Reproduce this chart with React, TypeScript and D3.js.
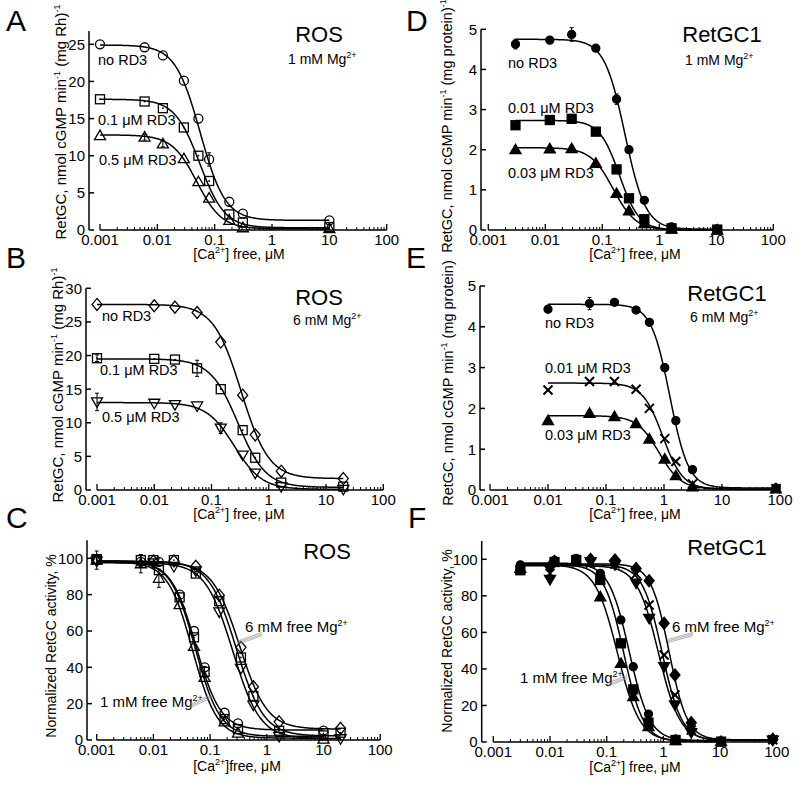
import React from 'react'
import * as d3 from 'd3'

const FONT = 'Liberation Sans, Arial, Helvetica, sans-serif'

// x values, uM free Ca2+
const rosX1 = [0.001, 0.006, 0.0125, 0.029, 0.052, 0.08, 0.18, 0.31, 10]
const rosX6 = [0.001, 0.01, 0.023, 0.056, 0.145, 0.35, 0.58, 1.65, 20]
const retX1 = [0.003, 0.012, 0.029, 0.077, 0.178, 0.294, 0.546, 1.64, 10.4]
const retX6 = [0.01, 0.052, 0.14, 0.33, 0.56, 1.03, 1.6, 3.1, 85]

// panel A - ROS, 1 mM Mg
const aNoRD3 = [25.0, 24.6, 23.5, 20.1, 15.0, 9.5, 3.8, 2.2, 1.3]
const aRD01 = [17.6, 17.3, 16.4, 13.8, 10.0, 6.6, 2.1, 1.0, 0.4]
const aRD05 = [12.7, 12.5, 11.6, 9.6, 6.5, 4.3, 1.3, 0.3, 0.2]
const aErrNo = [0, 0, 0, 0, 0, 0.9, 0, 0, 0]
const aErr05 = [0, 0.4, 0.4, 0, 0, 0, 0, 0, 0]

// panel B - ROS, 6 mM Mg
const bNoRD3 = [27.6, 27.4, 27.2, 26.4, 22.0, 14.1, 8.2, 2.8, 1.7]
const bRD01 = [19.6, 19.5, 19.4, 18.1, 15.0, 8.9, 4.8, 1.1, 0.5]
const bRD05 = [13.1, 12.9, 12.7, 12.5, 9.2, 5.2, 2.5, 0.5, 0.1]
const bErr01 = [0.5, 0, 0, 1.2, 0, 0, 0, 0, 0]
const bErr05 = [1.3, 0, 0, 0, 0.8, 0, 0, 0, 0]

// panel C - ROS normalized, %
const c1Circle = [99.5, 98, 98, 80, 60, 40, 15, 9.2, 5.2]
const c1Square = [99.5, 99, 93.5, 78.5, 56.5, 37.5, 11.5, 6.0, 2.5]
const c1Tri = [99, 97, 89, 74.5, 51.5, 34.5, 10, 3.8, 0.5]
const c6Diamond = [99, 98.5, 98.5, 95.6, 79.7, 51, 29.3, 10, 6.4]
const c6Square = [99.5, 99, 99, 91.6, 76.4, 45.4, 24.2, 5.1, 4.0]
const c6Tri = [98.5, 97.5, 95.5, 93, 70.5, 39.4, 19.2, 2, 0.7]
const cErrTri = [5, 5, 5, 0, 0, 0, 0, 0, 0]
const cErrSq = [0, 3, 0, 0, 0, 3, 0, 0, 0]

// panel D - RetGC1, 1 mM Mg
const dNoRD3 = [4.63, 4.73, 4.87, 4.53, 3.26, 2.0, 0.74, 0.08, 0.02]
const dRD001 = [2.61, 2.74, 2.77, 2.45, 1.51, 0.79, 0.27, 0.04, 0.01]
const dRD003 = [2.0, 2.02, 2.03, 1.66, 0.91, 0.48, 0.16, 0.02, 0.0]
const dErrNo = [0.12, 0, 0.17, 0, 0.13, 0, 0, 0, 0]

// panel E - RetGC1, 6 mM Mg
const eNoRD3 = [4.43, 4.57, 4.6, 4.41, 4.11, 3.0, 1.7, 0.5, 0.05]
const eRD001 = [2.45, 2.66, 2.66, 2.47, 2.0, 1.26, 0.7, 0.15, 0.03]
const eRD003 = [1.7, 1.88, 1.8, 1.63, 1.25, 0.76, 0.35, 0.08, 0.03]
const eErrNo = [0, 0.15, 0, 0, 0, 0, 0, 0, 0]

// panel F - RetGC1 normalized, %
const f1Circle = [97, 99.5, 100.5, 92.3, 66.8, 41.2, 15.3, 1.5, 0.5]
const f1Square = [94, 98.5, 99.6, 88.7, 54, 28.8, 10.6, 1.1, 0.2]
const f1Tri = [95, 99, 99, 79.5, 43, 24.8, 8.4, 0.8, 0.2]
const f6Diamond = [96, 100, 99.6, 95, 88.3, 65, 36.7, 10.6, 1.5]
const f6Cross = [92.3, 98, 97.5, 92, 75, 47.6, 25.7, 6.6, 1.2]
const f6Tri = [89, 98.7, 97, 87, 67.7, 41.2, 20.3, 5.1, 1.0]

// Hill fit parameters: [top, bottom, IC50, hill]
const fitA = [[24.9, 1.3, 0.056, 2.0], [17.6, 0.3, 0.055, 2.0], [12.8, 0.15, 0.049, 2.0]]
const fitB = [[27.6, 1.7, 0.33, 1.8], [19.5, 0.4, 0.29, 1.8], [13.0, 0.1, 0.25, 1.8]]
const fitC1 = [[98.5, 5.5, 0.056, 2.0], [98.5, 2, 0.055, 2.0], [98, 1, 0.049, 2.0]]
const fitC6 = [[98, 6, 0.33, 1.8], [98.5, 2.2, 0.29, 1.8], [97.5, 0.8, 0.25, 1.8]]
const fitD = [[4.75, 0.02, 0.25, 2.4], [2.73, 0.0, 0.2, 2.5], [2.05, 0.0, 0.155, 2.2]]
const fitE = [[4.55, 0.05, 1.26, 2.7], [2.62, 0.02, 0.95, 2.5], [1.82, 0.02, 0.82, 2.3]]
const fitF1 = [[98, 0.8, 0.25, 2.4], [97, 0.3, 0.2, 2.5], [97, 0.3, 0.155, 2.2]]
const fitF6 = [[97.5, 1.2, 1.26, 2.7], [97, 0.8, 0.95, 2.5], [96.5, 0.8, 0.82, 2.3]]

const decades = [0.001, 0.01, 0.1, 1, 10, 100]
const decadeLabels = ['0.001', '0.01', '0.1', '1', '10', '100']

const hill = (f: number[], x: number) => f[1] + (f[0] - f[1]) / (1 + Math.pow(x / f[2], f[3]))

function Marker({ type, cx, cy, filled }: any) {
  const fill = filled ? '#000' : 'none'
  const sw = 1.3
  if (type === 'circle') return <circle cx={cx} cy={cy} r={filled ? 4 : 4.5} fill={fill} stroke="#000" strokeWidth={sw} />
  if (type === 'square')
    return (
      <g>
        <rect x={cx - 4.5} y={cy - 4.5} width={9} height={9} fill={fill} stroke="#000" strokeWidth={sw} />
        {!filled && <circle cx={cx} cy={cy} r={0.9} fill="#000" />}
      </g>
    )
  if (type === 'tri') return <polygon points={`${cx},${cy - 5.5} ${cx + 5.5},${cy + 4} ${cx - 5.5},${cy + 4}`} fill={fill} stroke="#000" strokeWidth={sw} />
  if (type === 'tridown') return <polygon points={`${cx},${cy + 5.5} ${cx + 5.5},${cy - 4} ${cx - 5.5},${cy - 4}`} fill={fill} stroke="#000" strokeWidth={sw} />
  if (type === 'diamond') return <polygon points={`${cx},${cy - 6} ${cx + 5},${cy} ${cx},${cy + 6} ${cx - 5},${cy}`} fill={fill} stroke="#000" strokeWidth={sw} />
  // cross
  return (
    <g stroke="#000" strokeWidth={2}>
      <line x1={cx - 4.5} y1={cy - 4.5} x2={cx + 4.5} y2={cy + 4.5} />
      <line x1={cx - 4.5} y1={cy + 4.5} x2={cx + 4.5} y2={cy - 4.5} />
    </g>
  )
}

function Leader({ x1, y1, x2, y2 }: any) {
  return (
    <g stroke="#8a8a8a" strokeWidth={0.7}>
      {[-1.6, 0, 1.6].map(o => (
        <line key={o} x1={x1} y1={y1 + o} x2={x2} y2={y2 + o} />
      ))}
    </g>
  )
}

function Sup({ children }: any) {
  return <tspan fontSize={9} dy={-6}>{children}</tspan>
}

function Panel({ p }: any) {
  const x = d3.scaleLog().domain([0.001, 100]).range(p.xRange)
  const y = d3.scaleLinear().domain([0, p.yMax]).range(p.yRange)
  const y0 = y(0)
  const minor: number[] = []
  for (let i = 0; i < 5; i++) for (let k = 2; k <= 9; k++) minor.push(decades[i] * k)
  const line = d3.line<number[]>().x(d => x(d[0])).y(d => y(d[1]))

  return (
    <g fontFamily={FONT}>
      {/* y axis */}
      <line x1={p.yAxisX} x2={p.yAxisX} y1={y0} y2={y(p.yTop)} stroke="#000" strokeWidth={1.5} />
      {p.yTicks.map((t: number) => (
        <g key={t}>
          <line x1={p.yAxisX} x2={p.yAxisX + 5} y1={y(t)} y2={y(t)} stroke="#000" strokeWidth={1.5} />
          <text x={p.yAxisX - 4} y={y(t)} dy="0.36em" textAnchor="end" fontSize={15}>{t}</text>
        </g>
      ))}
      {/* x axis */}
      <line x1={x(0.001)} x2={x(100)} y1={y0} y2={y0} stroke="#000" strokeWidth={1.5} />
      {decades.map((d, i) => (
        <g key={d}>
          <line x1={x(d)} x2={x(d)} y1={y0} y2={y0 - 6} stroke="#000" strokeWidth={1.3} />
          <text x={x(d)} y={y0 + 15} textAnchor="middle" fontSize={15}>{decadeLabels[i]}</text>
        </g>
      ))}
      {minor.map(m => (
        <line key={m} x1={x(m)} x2={x(m)} y1={y0} y2={y0 - 3} stroke="#000" strokeWidth={1} />
      ))}
      {/* fitted curves */}
      {p.series.map((s: any, i: number) => {
        const lo = Math.log10(s.from)
        const hi = Math.log10(s.to)
        const pts = d3.range(0, 241).map(k => {
          const xv = Math.pow(10, lo + ((hi - lo) * k) / 240)
          return [xv, hill(s.fit, xv)]
        })
        return <path key={'c' + i} d={line(pts) || ''} fill="none" stroke="#000" strokeWidth={1.5} />
      })}
      {/* error bars */}
      {p.series.map((s: any, i: number) =>
        (s.err || []).map((e: number, j: number) =>
          e > 0 ? (
            <g key={'e' + i + '-' + j} stroke="#000" strokeWidth={1}>
              <line x1={x(s.x[j])} x2={x(s.x[j])} y1={y(s.y[j] - e)} y2={y(s.y[j] + e)} />
              <line x1={x(s.x[j]) - 2} x2={x(s.x[j]) + 2} y1={y(s.y[j] + e)} y2={y(s.y[j] + e)} />
              <line x1={x(s.x[j]) - 2} x2={x(s.x[j]) + 2} y1={y(s.y[j] - e)} y2={y(s.y[j] - e)} />
            </g>
          ) : null
        )
      )}
      {/* markers */}
      {p.series.map((s: any, i: number) =>
        s.y.map((v: number, j: number) => (
          <Marker key={'m' + i + '-' + j} type={s.marker} filled={s.filled} cx={x(s.x[j])} cy={y(v)} />
        ))
      )}
      {/* letters and labels */}
      <text x={p.letter[1]} y={p.letter[2]} fontSize={30}>{p.letter[0]}</text>
      <text x={p.title[1]} y={p.title[2]} fontSize={22} textAnchor="middle">{p.title[0]}</text>
      {p.sub && (
        <text x={p.sub[1]} y={p.sub[2]} fontSize={14}>
          {p.sub[0]} Mg<Sup>2+</Sup>
        </text>
      )}
      {p.labels.map((l: any) => (
        <text key={l[0]} x={l[1]} y={l[2]} fontSize={14.5}>{l[0]}</text>
      ))}
      {p.mgLabels &&
        p.mgLabels.map((l: any) => (
          <g key={l[0]}>
            <text x={l[1]} y={l[2]} fontSize={15}>
              {l[0]} free Mg<Sup>2+</Sup>
            </text>
            <Leader x1={l[3]} y1={l[4]} x2={l[5]} y2={l[6]} />
          </g>
        ))}
      <text x={p.xLabel[1]} y={p.xLabel[2]} fontSize={14} textAnchor="middle">
        [Ca<Sup>2+</Sup>
        <tspan dy={6}>]{p.xLabel[0]}, μM</tspan>
      </text>
      <text transform={`translate(${p.yLabel[1]},${p.yLabel[2]}) rotate(-90)`} fontSize={p.yLabel[3]} textAnchor="middle">
        {p.yLabel[0]}
      </text>
    </g>
  )
}

const ylabRh = (
  <>
    RetGC, nmol cGMP min<Sup>-1</Sup>
    <tspan dy={6}> (mg Rh)</tspan>
    <Sup>-1</Sup>
  </>
)
const ylabProt1 = (
  <>
    RetGC, nmol cGMP min<Sup>-1</Sup>
    <tspan dy={6}> (mg protein)</tspan>
    <Sup>-1</Sup>
  </>
)
const ylabProt = (
  <>
    RetGC, nmol cGMP min<Sup>-1</Sup>
    <tspan dy={6}> (mg protein)</tspan>
  </>
)

const panels = [
  {
    xRange: [100, 386.7], yRange: [230, 44.3], yMax: 25, yTop: 26.8, yAxisX: 89, yTicks: [0, 5, 10, 15, 20, 25],
    letter: ['A', 6, 31], title: ['ROS', 319, 42], sub: ['1 mM', 288, 64],
    labels: [['no RD3', 98, 65], ['0.1 μM RD3', 98, 125], ['0.5 μM RD3', 99, 165]],
    xLabel: [' free', 239, 259], yLabel: [ylabRh, 66, 122, 15],
    series: [
      { x: rosX1, y: aNoRD3, err: aErrNo, fit: fitA[0], marker: 'circle', from: 0.001, to: 10 },
      { x: rosX1, y: aRD01, fit: fitA[1], marker: 'square', from: 0.001, to: 10 },
      { x: rosX1, y: aRD05, err: aErr05, fit: fitA[2], marker: 'tri', from: 0.001, to: 10 },
    ],
  },
  {
    xRange: [97, 383.3], yRange: [490, 288.3], yMax: 30, yTop: 30, yAxisX: 86, yTicks: [0, 5, 10, 15, 20, 25, 30],
    letter: ['B', 6, 268], title: ['ROS', 319, 305], sub: ['6 mM', 293, 325],
    labels: [['no RD3', 102, 321], ['0.1 μM RD3', 100, 375], ['0.5 μM RD3', 102, 422]],
    xLabel: [' free', 239, 519], yLabel: [ylabRh, 63, 385, 15],
    series: [
      { x: rosX6, y: bNoRD3, fit: fitB[0], marker: 'diamond', from: 0.001, to: 20 },
      { x: rosX6, y: bRD01, err: bErr01, fit: fitB[1], marker: 'square', from: 0.001, to: 20 },
      { x: rosX6, y: bRD05, err: bErr05, fit: fitB[2], marker: 'tridown', from: 0.001, to: 20 },
    ],
  },
  {
    xRange: [96.7, 380.2], yRange: [740, 558.3], yMax: 100, yTop: 110, yAxisX: 87, yTicks: [0, 20, 40, 60, 80, 100],
    letter: ['C', 6, 528], title: ['ROS', 327, 559],
    labels: [],
    mgLabels: [['6 mM', 245, 632, 262, 634, 237, 643], ['1 mM', 100, 707, 190, 706, 212, 696]],
    xLabel: ['free', 237, 771], yLabel: ['Normalized RetGC activity, %', 56, 646, 14],
    series: [
      { x: rosX1, y: c1Circle, fit: fitC1[0], marker: 'circle', from: 0.001, to: 10 },
      { x: rosX1, y: c1Square, err: cErrSq, fit: fitC1[1], marker: 'square', from: 0.001, to: 10 },
      { x: rosX1, y: c1Tri, err: cErrTri, fit: fitC1[2], marker: 'tri', from: 0.001, to: 10 },
      { x: rosX6, y: c6Diamond, fit: fitC6[0], marker: 'diamond', from: 0.001, to: 20 },
      { x: rosX6, y: c6Square, fit: fitC6[1], marker: 'square', from: 0.001, to: 20 },
      { x: rosX6, y: c6Tri, fit: fitC6[2], marker: 'tridown', from: 0.001, to: 20 },
    ],
  },
  {
    xRange: [488.3, 773.3], yRange: [230, 29.3], yMax: 5, yTop: 5, yAxisX: 481, yTicks: [0, 1, 2, 3, 4, 5],
    letter: ['D', 406, 31], title: ['RetGC1', 722, 42], sub: ['1 mM', 685, 65],
    labels: [['no RD3', 508, 68], ['0.01 μM RD3', 508, 113], ['0.03 μM RD3', 508, 178]],
    xLabel: [' free', 635, 259], yLabel: [ylabProt1, 452, 126, 14.5],
    series: [
      { x: retX1, y: dNoRD3, err: dErrNo, fit: fitD[0], marker: 'circle', filled: true, from: 0.003, to: 10.4 },
      { x: retX1, y: dRD001, fit: fitD[1], marker: 'square', filled: true, from: 0.003, to: 10.4 },
      { x: retX1, y: dRD003, fit: fitD[2], marker: 'tri', filled: true, from: 0.003, to: 10.4 },
    ],
  },
  {
    xRange: [490, 780], yRange: [490, 286], yMax: 5, yTop: 5, yAxisX: 480, yTicks: [0, 1, 2, 3, 4, 5],
    letter: ['E', 406, 268], title: ['RetGC1', 727, 301], sub: ['6 mM', 690, 322],
    labels: [['no RD3', 545, 328], ['0.01 μM RD3', 545, 373], ['0.03 μM RD3', 545, 440]],
    xLabel: [' free', 635, 519], yLabel: [ylabProt, 453, 383, 14.5],
    series: [
      { x: retX6, y: eNoRD3, err: eErrNo, fit: fitE[0], marker: 'circle', filled: true, from: 0.01, to: 85 },
      { x: retX6, y: eRD001, fit: fitE[1], marker: 'cross', filled: true, from: 0.01, to: 85 },
      { x: retX6, y: eRD003, fit: fitE[2], marker: 'tri', filled: true, from: 0.01, to: 85 },
    ],
  },
  {
    xRange: [493.3, 776.8], yRange: [742, 559.3], yMax: 100, yTop: 110, yAxisX: 481.7, yTicks: [0, 20, 40, 60, 80, 100],
    letter: ['F', 408, 528], title: ['RetGC1', 727, 555],
    labels: [],
    mgLabels: [['6 mM', 672, 632, 693, 634, 668, 641], ['1 mM', 520, 683, 607, 685, 627, 677]],
    xLabel: [' free', 635, 772], yLabel: ['Normalized RetGC activity, %', 452, 641, 14],
    series: [
      { x: retX1, y: f1Circle, fit: fitF1[0], marker: 'circle', filled: true, from: 0.003, to: 10.4 },
      { x: retX1, y: f1Square, fit: fitF1[1], marker: 'square', filled: true, from: 0.003, to: 10.4 },
      { x: retX1, y: f1Tri, fit: fitF1[2], marker: 'tri', filled: true, from: 0.003, to: 10.4 },
      { x: retX6, y: f6Diamond, fit: fitF6[0], marker: 'diamond', filled: true, from: 0.003, to: 85 },
      { x: retX6, y: f6Cross, fit: fitF6[1], marker: 'cross', filled: true, from: 0.003, to: 85 },
      { x: retX6, y: f6Tri, fit: fitF6[2], marker: 'tridown', filled: true, from: 0.003, to: 85 },
    ],
  },
]

export default function App() {
  return (
    <svg width={800} height={785} style={{ position: 'absolute', left: 0, top: 0, background: '#fff' }}>
      <rect width={800} height={785} fill="#fff" />
      {panels.map((p, i) => (
        <Panel key={i} p={p} />
      ))}
    </svg>
  )
}
